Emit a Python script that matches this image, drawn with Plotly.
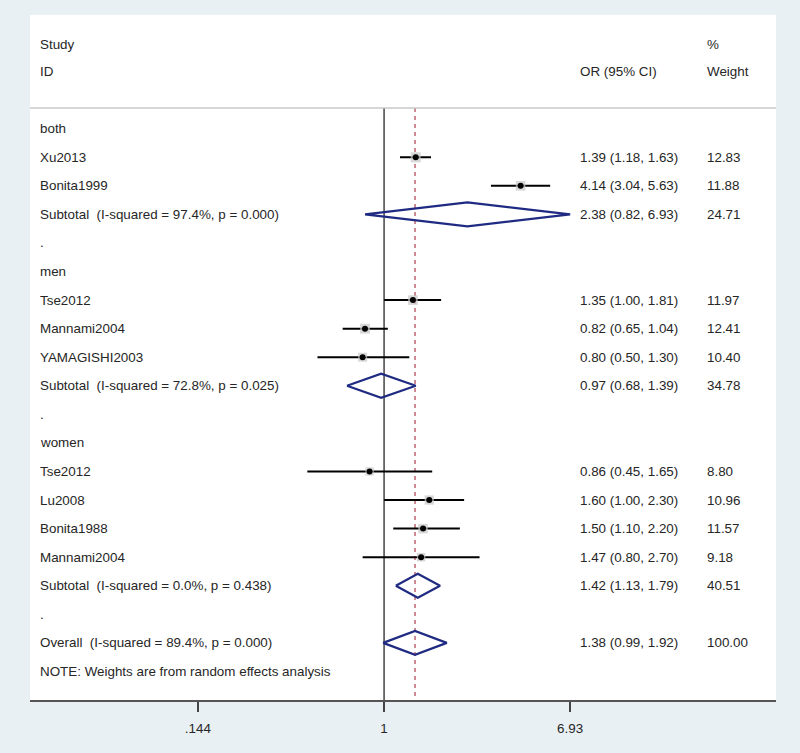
import plotly.graph_objects as go

# ---------------- data ----------------
row_labels = [
    "both", "Xu2013", "Bonita1999", "Subtotal  (I-squared = 97.4%, p = 0.000)", ".",
    "men", "Tse2012", "Mannami2004", "YAMAGISHI2003", "Subtotal  (I-squared = 72.8%, p = 0.025)", ".",
    "women", "Tse2012", "Lu2008", "Bonita1988", "Mannami2004", "Subtotal  (I-squared = 0.0%, p = 0.438)", ".",
    "Overall  (I-squared = 89.4%, p = 0.000)", "NOTE: Weights are from random effects analysis",
]
row_types = [
    "group", "study", "study", "pooled", "blank",
    "group", "study", "study", "study", "pooled", "blank",
    "group", "study", "study", "study", "study", "pooled", "blank",
    "pooled", "note",
]
or_est = [None, 1.39, 4.14, 2.38, None, None, 1.35, 0.82, 0.80, 0.97, None,
          None, 0.86, 1.60, 1.50, 1.47, 1.42, None, 1.38, None]
ci_low = [None, 1.18, 3.04, 0.82, None, None, 1.00, 0.65, 0.50, 0.68, None,
          None, 0.45, 1.00, 1.10, 0.80, 1.13, None, 0.99, None]
ci_high = [None, 1.63, 5.63, 6.93, None, None, 1.81, 1.04, 1.30, 1.39, None,
           None, 1.65, 2.30, 2.20, 2.70, 1.79, None, 1.92, None]
weights = [None, 12.83, 11.88, 24.71, None, None, 11.97, 12.41, 10.40, 34.78, None,
           None, 8.80, 10.96, 11.57, 9.18, 40.51, None, 100.00, None]
overall_or = 1.38
tick_vals = [0.144, 1, 6.93]
tick_text = [".144", "1", "6.93"]

# ---------------- styling ----------------
FONT = "Liberation Sans, Arial, sans-serif"
FS = 13.4
TXT = "#262626"
NAVY = "#1f2b82"
BG = "#e9f0f3"
rows = list(range(len(row_labels)))
Y_TOP, Y_BOT = -3.98, 20.0
HEADER_LINE = -0.725
DH = 0.42  # diamond half height (row units)

fig = go.Figure()

# CI lines for studies
cx, cy = [], []
for i, t in enumerate(row_types):
    if t == "study":
        cx += [ci_low[i], ci_high[i], None]
        cy += [i, i, None]
fig.add_trace(go.Scatter(x=cx, y=cy, mode="lines", line=dict(color="black", width=2),
                         hoverinfo="skip", showlegend=False))

# weight boxes
sx = [or_est[i] for i, t in enumerate(row_types) if t == "study"]
sy = [i for i, t in enumerate(row_types) if t == "study"]
sw = [weights[i] for i, t in enumerate(row_types) if t == "study"]
fig.add_trace(go.Scatter(x=sx, y=sy, mode="markers",
                         marker=dict(symbol="square", size=[w ** 0.5 * 2.8 for w in sw],
                                     color="#c8c8c8", line=dict(width=0)),
                         hoverinfo="skip", showlegend=False))
# point estimates
fig.add_trace(go.Scatter(x=sx, y=sy, mode="markers",
                         marker=dict(symbol="circle", size=6, color="black"),
                         hoverinfo="skip", showlegend=False))

# diamonds for pooled estimates
dx, dy = [], []
for i, t in enumerate(row_types):
    if t == "pooled":
        dx += [ci_low[i], or_est[i], ci_high[i], or_est[i], ci_low[i], None]
        dy += [i, i - DH, i, i + DH, i, None]
fig.add_trace(go.Scatter(x=dx, y=dy, mode="lines", line=dict(color=NAVY, width=2.2),
                         hoverinfo="skip", showlegend=False))

# reference lines
fig.add_shape(type="line", xref="x", yref="y", x0=1, x1=1, y0=HEADER_LINE, y1=Y_BOT,
              line=dict(color="#444444", width=1.5), layer="below")
fig.add_shape(type="line", xref="x", yref="y", x0=overall_or, x1=overall_or, y0=HEADER_LINE, y1=Y_BOT,
              line=dict(color="#b85a6a", width=1.4, dash="4px,4px"), layer="below")
fig.add_shape(type="line", xref="paper", yref="y", x0=0, x1=1, y0=HEADER_LINE, y1=HEADER_LINE,
              line=dict(color="#c8c8c8", width=1.5))

# text
X_LAB, X_OR, X_W = 0.0107, 0.7346, 0.9048
ann = []
def add_text(x, y, s):
    ann.append(dict(x=x, y=y, xref="paper", yref="y", text=s, showarrow=False,
                    xanchor="left", yanchor="middle", font=dict(family=FONT, size=FS, color=TXT)))

add_text(X_LAB, -2.93, "Study")
add_text(X_LAB, -1.985, "ID")
add_text(X_OR, -1.985, "OR (95% CI)")
add_text(X_W, -2.93, "%")
add_text(X_W, -1.985, "Weight")
for i in rows:
    add_text(X_LAB, i, row_labels[i])
    if or_est[i] is not None:
        add_text(X_OR, i, f"{or_est[i]:.2f} ({ci_low[i]:.2f}, {ci_high[i]:.2f})")
        add_text(X_W, i, f"{weights[i]:.2f}")

fig.update_layout(
    width=800, height=753,
    margin=dict(l=30, r=24, t=15, b=53),
    paper_bgcolor=BG, plot_bgcolor="white",
    annotations=ann,
    showlegend=False,
    font=dict(family=FONT, size=FS, color=TXT),
)
fig.update_xaxes(type="log", range=[-1.600, 1.771], showgrid=False, zeroline=False,
                 tickvals=tick_vals, ticktext=tick_text, ticks="outside", ticklen=10,
                 tickwidth=1.5, tickcolor="#444444", showline=True, linecolor="#555555",
                 linewidth=2, ticklabelstandoff=5, tickfont=dict(family=FONT, size=FS, color=TXT))
fig.update_yaxes(range=[Y_BOT, Y_TOP], visible=False, showgrid=False, zeroline=False)

fig.write_html("out.html", config={"displayModeBar": False},
               post_script="document.body.style.margin='0';document.body.style.background='%s';" % BG)
